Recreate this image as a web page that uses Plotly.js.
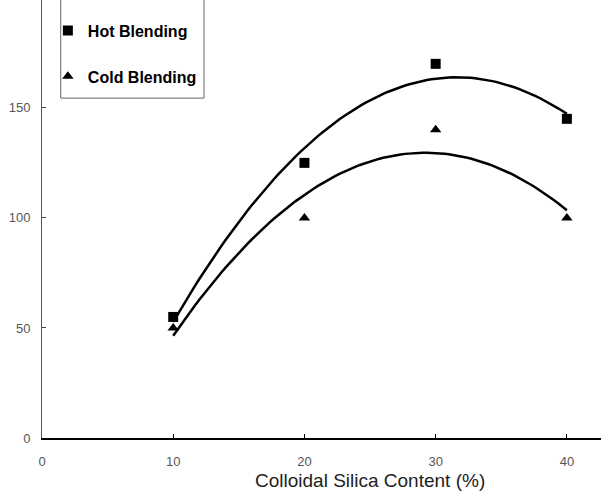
<!DOCTYPE html>
<html>
<head>
<meta charset="utf-8">
<script src="https://cdn.plot.ly/plotly-3.0.1.min.js"></script>
<style>
html,body{margin:0;padding:0;background:#fff;overflow:hidden;}
#chart{width:601px;height:491px;}
</style>
</head>
<body>
<div id="chart"></div>
<script>
// Data
var silicaContent = [10, 20, 30, 40];
var hotBlending = [55, 125, 170, 145];
var coldBlending = [50, 100, 140, 100];
var seriesNames = ['Hot Blending', 'Cold Blending'];
var xTickVals = [0, 10, 20, 30, 40];
var yTickVals = [0, 50, 100, 150];
var xAxisTitle = 'Colloidal Silica Content (%)';

// 2nd-order polynomial least-squares trendline
function quadFit(xs, ys) {
  var n = xs.length, S = [0,0,0,0,0], T = [0,0,0];
  for (var i = 0; i < n; i++) {
    var p = 1;
    for (var k = 0; k < 5; k++) { S[k] += p; if (k < 3) T[k] += p * ys[i]; p *= xs[i]; }
  }
  var A = [[S[0],S[1],S[2],T[0]],[S[1],S[2],S[3],T[1]],[S[2],S[3],S[4],T[2]]];
  for (var c = 0; c < 3; c++) {
    for (var r = c + 1; r < 3; r++) {
      var f = A[r][c] / A[c][c];
      for (var j = c; j < 4; j++) A[r][j] -= f * A[c][j];
    }
  }
  var coef = [0,0,0];
  for (var r2 = 2; r2 >= 0; r2--) {
    var s = A[r2][3];
    for (var j2 = r2 + 1; j2 < 3; j2++) s -= A[r2][j2] * coef[j2];
    coef[r2] = s / A[r2][r2];
  }
  return function (x) { return coef[0] + coef[1] * x + coef[2] * x * x; };
}
function trend(xs, ys) {
  var f = quadFit(xs, ys), tx = [], ty = [];
  var x0 = Math.min.apply(null, xs), x1 = Math.max.apply(null, xs);
  for (var i = 0; i <= 90; i++) { var x = x0 + (x1 - x0) * i / 90; tx.push(x); ty.push(f(x)); }
  return {x: tx, y: ty};
}
var hotTrend = trend(silicaContent, hotBlending);
var coldTrend = trend(silicaContent, coldBlending);

var traces = [
  {x: hotTrend.x, y: hotTrend.y, mode: 'lines', line: {color: '#000', width: 2.5}, showlegend: false, hoverinfo: 'skip'},
  {x: coldTrend.x, y: coldTrend.y, mode: 'lines', line: {color: '#000', width: 2.5}, showlegend: false, hoverinfo: 'skip'},
  {x: silicaContent, y: hotBlending, name: seriesNames[0], legendgroup: 'a', mode: 'markers',
   marker: {symbol: 'square', size: 10, color: '#000'}},
  {x: silicaContent, y: coldBlending, name: seriesNames[1], legendgroup: 'b', mode: 'markers',
   marker: {symbol: 'triangle-up', size: 10, color: '#000'}}
];

var layout = {
  width: 601, height: 491,
  margin: {l: 42, r: 0, t: 0, b: 53},
  paper_bgcolor: '#fff', plot_bgcolor: '#fff',
  font: {family: 'Liberation Sans, Arial, sans-serif', color: '#555'},
  xaxis: {
    range: [0, 42.6], tickvals: xTickVals, ticks: 'inside', ticklen: 4, tickcolor: '#000',
    showline: true, linecolor: '#000', linewidth: 2, showgrid: false, zeroline: false,
    tickfont: {size: 13, color: '#555'}, ticklabelstandoff: 10
  },
  yaxis: {
    range: [0, 199], tickvals: yTickVals, ticks: 'inside', ticklen: 4, tickcolor: '#444',
    showline: true, linecolor: '#555', linewidth: 1, showgrid: false, zeroline: false,
    tickfont: {size: 13, color: '#555'}, ticklabelstandoff: 8
  },
  showlegend: true,
  legend: {
    x: 0.0105, xanchor: 'left', y: 0.969, yanchor: 'top',
    bgcolor: 'rgba(0,0,0,0)', borderwidth: 0,
    traceorder: 'grouped', tracegroupgap: 22,
    font: {family: 'Liberation Sans, Arial, sans-serif', size: 16, color: '#000', weight: 'bold'}
  },
  shapes: [
    {type: 'rect', xref: 'paper', yref: 'paper', x0: 0.0335, x1: 0.2898, y0: 0.776, y1: 1.05,
     line: {color: '#666', width: 1}, fillcolor: 'rgba(0,0,0,0)', layer: 'below'}
  ],
  annotations: [
    {text: xAxisTitle, x: 25, xref: 'x', y: -0.0959, yref: 'paper', yanchor: 'middle', xanchor: 'center',
     showarrow: false, font: {family: 'Liberation Sans, Arial, sans-serif', size: 19, color: '#222'}}
  ]
};

Plotly.newPlot('chart', traces, layout, {displayModeBar: false, staticPlot: true});
</script>
</body>
</html>
